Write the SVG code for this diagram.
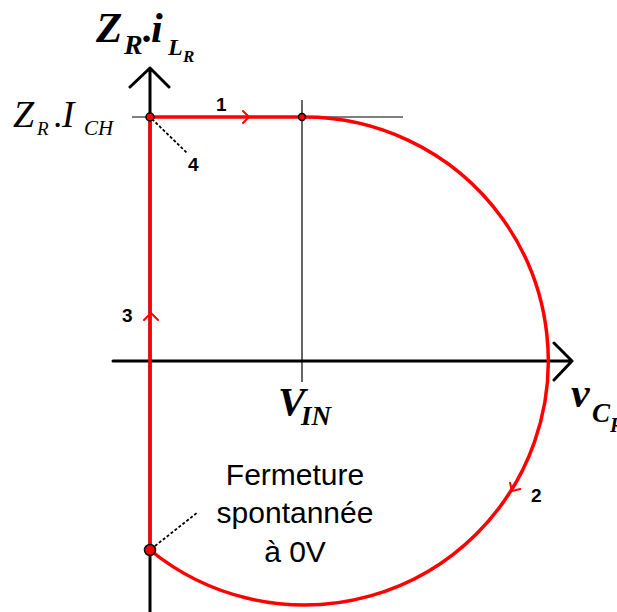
<svg xmlns="http://www.w3.org/2000/svg" width="617" height="612" viewBox="0 0 617 612">
<style>
.axis{fill:none;stroke:#000;stroke-width:3;stroke-linecap:round;stroke-linejoin:round}
.thin{fill:none;stroke:#000;stroke-width:1.2}
.grey{fill:none;stroke:#555;stroke-width:1.5}
.red{fill:none;stroke:#ff0000;stroke-width:3.5;stroke-linejoin:round}
.chev{fill:none;stroke:#ff0000;stroke-width:2;stroke-linecap:round;stroke-linejoin:round}
.lead{fill:none;stroke:#000;stroke-width:1.8;stroke-dasharray:3 2}
.dot{fill:#ff0000;stroke:#000;stroke-width:1.5}
.mb{font-family:"Liberation Serif",serif;font-weight:bold;font-style:italic;fill:#000}
.mi{font-family:"Liberation Serif",serif;font-style:italic;fill:#000}
.num{font-family:"Liberation Sans",Arial,sans-serif;font-weight:bold;font-size:19px;fill:#000}
.lbl{font-family:"Liberation Sans",Arial,sans-serif;font-size:30px;fill:#000;text-anchor:middle}
</style>
<g id="axes">
<path class="axis" d="M150,612 V68 M130,87 L150,68 L169,87"/>
<path class="axis" d="M113,361 H572 M554,343 L572,361 L554,380"/>
<path class="thin" d="M302,100 V382"/>
<path class="grey" d="M132,117 H403"/>
</g>
<g id="connectors">
<path class="red" d="M150,117 H302 A244,244 0 1 1 150,550 V117"/>
<path class="chev" d="M243,111 L249,117 L243,123"/>
<path class="chev" d="M144,320 L151,313 L158,320"/>
<path class="chev" transform="translate(512,491) rotate(121.6)" d="M-6,-6 L0,0 L-6,6"/>
<path class="lead" d="M152,119 L187,153"/>
<path class="lead" d="M155,546 L198,512"/>
</g>
<g id="points">
<circle class="dot" cx="150" cy="117" r="4"/>
<circle class="dot" cx="302" cy="117" r="3.5"/>
<circle class="dot" cx="150" cy="550" r="5.5"/>
</g>
<g id="labels">
<text class="mb" x="96" y="42" font-size="43">Z</text>
<text class="mb" x="124" y="54" font-size="28">R</text>
<text class="mb" x="143" y="42" font-size="40">.</text>
<text class="mb" x="151" y="42" font-size="42">i</text>
<text class="mb" x="168" y="55" font-size="24">L</text>
<text class="mb" x="183" y="62" font-size="17">R</text>
<text class="mi" x="13" y="127" font-size="38">Z</text>
<text class="mi" x="37" y="135" font-size="19">R</text>
<text class="mi" x="54" y="127" font-size="36">.</text>
<text class="mi" x="62" y="127" font-size="37">I</text>
<text class="mi" x="84" y="135" font-size="21">CH</text>
<text class="mb" x="278" y="415" font-size="41">V</text>
<text class="mb" x="301" y="425" font-size="27">IN</text>
<text class="mb" x="571" y="407" font-size="42">v</text>
<text class="mb" x="592" y="422" font-size="27">C</text>
<text class="mb" x="610" y="432" font-size="20">R</text>
<text class="num" x="216" y="111">1</text>
<text class="num" x="531" y="502">2</text>
<text class="num" x="122" y="322">3</text>
<text class="num" x="188" y="171">4</text>
<text class="lbl" x="295" y="485">Fermeture</text>
<text class="lbl" x="295" y="523">spontannée</text>
<text class="lbl" x="295" y="562">à 0V</text>
</g>
</svg>
